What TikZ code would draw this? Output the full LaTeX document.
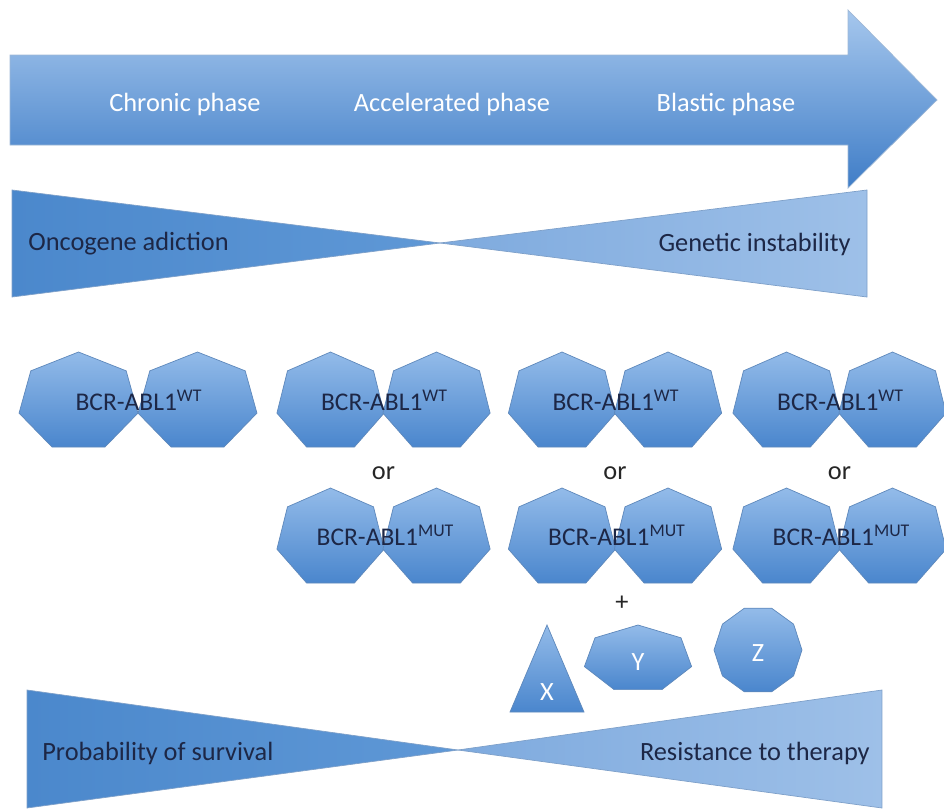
\documentclass[tikz,border=0pt]{standalone}
\usepackage{fontspec}
\setmainfont{Carlito}
\usepackage{tikz}
\usetikzlibrary{calc,positioning}
\definecolor{armLt}{HTML}{A6C7ED}
\definecolor{armDk}{HTML}{3F7DC7}
\definecolor{bowDk}{HTML}{4B88CC}
\definecolor{bowMd}{HTML}{5F98D6}
\definecolor{bowPl}{HTML}{7EAADE}
\definecolor{bowLt}{HTML}{9EC0E8}
\definecolor{hepLt}{HTML}{93BBE9}
\definecolor{hepDk}{HTML}{4A86CD}
\definecolor{hepEdge}{HTML}{5E88BB}
\definecolor{inkNavy}{HTML}{1D2746}
\tikzset{
  armshape/.style = {top color=armLt, bottom color=armDk, draw=hepEdge!60,
                     line width=0.4pt},
  bowleft/.style  = {left color=bowDk, right color=bowMd, draw=hepEdge!80,
                     line width=0.4pt},
  bowright/.style = {left color=bowPl, right color=bowLt, draw=hepEdge!80,
                     line width=0.4pt},
  hepshape/.style = {top color=hepLt, bottom color=hepDk, draw=hepEdge,
                     line width=0.4pt},
  phaselab/.style = {font=\fontsize{15}{18}\selectfont, text=white, inner sep=0pt},
  axlab/.style    = {font=\fontsize{15}{18}\selectfont, text=inkNavy, inner sep=0pt},
  mollab/.style   = {font=\fontsize{14.5}{17}\selectfont, text=inkNavy, inner sep=0pt},
  orlab/.style    = {font=\fontsize{15}{18}\selectfont, text=black!85, inner sep=0pt},
  xyzlab/.style   = {font=\fontsize{15}{18}\selectfont, text=white, inner sep=0pt},
}
% heptagon: centre x, centre y, x radius, y radius
\newcommand{\hepta}[4]{%
  \shade[hepshape, shift={(#1,#2)}] (90:#3 and #4)
    \foreach \k in {1,...,6}{ -- (90+\k*360/7:#3 and #4)} -- cycle;}

\begin{document}
\begin{tikzpicture}[x=0.02cm, y=-0.02cm]
  \useasboundingbox (0,0) rectangle (944,812);

  % phase arrow
  \shade[armshape] (10,55) -- (848,55) -- (848,10) -- (937,100)
    -- (848,188) -- (848,145) -- (10,145) -- cycle;
  \foreach \x/\nm/\t in {185/chr/Chronic phase, 452/acc/Accelerated phase,
                         726/bla/Blastic phase}
    \node[phaselab] (\nm) at (\x,104) {\t};

  % upper bow tie
  \shade[bowleft]  (12,190) -- (440,243) -- (12,297) -- cycle;
  \shade[bowright] (867,190) -- (440,243) -- (867,297) -- cycle;
  \node[axlab, anchor=west] (onco) at (28,244) {Oncogene adiction};
  \node[axlab, anchor=east] (gene) at (851,244) {Genetic instability};

  % BCR-ABL1 pairs
  \foreach \cx/\ra/\dx/\nm in {138/1.22cm/59.5/p1, 383.5/1.1cm/53/p2,
                               615/1.1cm/53/p3, 839.5/1.1cm/53/p4}{%
    \hepta{\cx-\dx}{402}{\ra}{1cm}
    \hepta{\cx+\dx}{402}{\ra}{1cm}
    \node[mollab] (wt\nm) at (\cx+1,400) {BCR-ABL1\textsuperscript{WT}};}
  \foreach \cx/\nm in {383.5/p2, 615/p3, 839.5/p4}{%
    \node[orlab] (or\nm) at (\cx,473) {or};
    \hepta{\cx-53}{538}{1.1cm}{1cm}
    \hepta{\cx+53}{538}{1.1cm}{1cm}
    \node[mollab] (mut\nm) at (\cx+2,535) {BCR-ABL1\textsuperscript{MUT}};}

  % extra partners
  \node[orlab] (plus) at (622,603) {+};
  \shade[hepshape] (547,625) -- (584,712) -- (510,712) -- cycle;
  \node[xyzlab] (xx) at (547,692) {X};
  \hepta{638}{659}{1.1cm}{0.68cm}
  \node[xyzlab] (yy) at (638,662) {Y};
  \shade[hepshape, shift={(758,650)}] (72:0.88cm)
    \foreach \k in {1,...,9}{ -- (72+\k*36:0.88cm)} -- cycle;
  \node[xyzlab] (zz) at (758,653) {Z};

  % lower bow tie
  \shade[bowleft]  (27,690) -- (458,750) -- (27,808) -- cycle;
  \shade[bowright] (882,690) -- (458,750) -- (882,808) -- cycle;
  \node[axlab, anchor=west] (surv) at (42,753) {Probability of survival};
  \node[axlab, anchor=east] (resi) at (870,753) {Resistance to therapy};
\end{tikzpicture}
\end{document}
